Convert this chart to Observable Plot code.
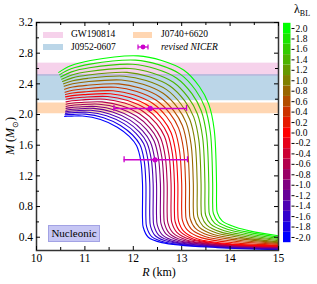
<!DOCTYPE html>
<html><head><meta charset="utf-8">
<script src="https://cdn.jsdelivr.net/npm/d3@7"></script>
<script src="https://cdn.jsdelivr.net/npm/@observablehq/plot@0.6"></script>
<style>
body{margin:0;background:#fff;}
#wrap{position:relative;width:317px;height:284px;font-family:"Liberation Serif",serif;color:#000;overflow:hidden;}
.ov{position:absolute;white-space:nowrap;line-height:1;}
</style></head><body>
<div id="wrap"></div>
<script>
// lambda_BL values of the 21 curves
const lambdas = [-2.0,-1.8,-1.6,-1.4,-1.2,-1.0,-0.8,-0.6,-0.4,-0.2,0.0,0.2,0.4,0.6,0.8,1.0,1.2,1.4,1.6,1.8,2.0];
// radius (km) along each curve
const curveR = [
 [10.58,10.636,10.728,10.95,11.322,11.669,11.917,12.066,12.153,12.19,12.19,12.205,12.31,12.59,13.736,15],
 [10.59,10.653,10.758,11.01,11.385,11.735,11.985,12.135,12.223,12.26,12.26,12.275,12.38,12.66,13.767,15],
 [10.60,10.67,10.786,11.065,11.448,11.805,12.06,12.213,12.302,12.34,12.34,12.355,12.46,12.74,13.803,15],
 [10.60,10.678,10.809,11.123,11.509,11.869,12.127,12.281,12.371,12.41,12.41,12.425,12.53,12.81,13.835,15],
 [10.61,10.696,10.838,11.18,11.57,11.934,12.194,12.35,12.441,12.48,12.48,12.495,12.60,12.88,13.866,15],
 [10.61,10.704,10.861,11.238,11.634,12.005,12.269,12.428,12.52,12.56,12.56,12.575,12.68,12.96,13.902,15],
 [10.61,10.713,10.884,11.295,11.696,12.069,12.336,12.497,12.59,12.63,12.63,12.645,12.75,13.03,13.934,15],
 [10.61,10.721,10.907,11.353,11.757,12.134,12.404,12.565,12.66,12.70,12.70,12.715,12.82,13.10,13.965,15],
 [10.61,10.73,10.93,11.41,11.821,12.205,12.479,12.643,12.739,12.78,12.78,12.795,12.90,13.18,14.001,15],
 [10.61,10.739,10.953,11.468,11.882,12.269,12.546,12.712,12.809,12.85,12.85,12.865,12.97,13.25,14.033,15],
 [10.60,10.739,10.97,11.525,11.944,12.334,12.613,12.781,12.878,12.92,12.92,12.935,13.04,13.32,14.064,15],
 [10.60,10.747,10.993,11.583,12.008,12.405,12.688,12.858,12.957,13.00,13.00,13.015,13.12,13.40,14.10,15],
 [10.59,10.748,11.01,11.64,12.072,12.475,12.763,12.936,13.037,13.08,13.08,13.095,13.20,13.48,14.136,15],
 [10.58,10.748,11.027,11.698,12.136,12.546,12.838,13.014,13.116,13.16,13.16,13.175,13.28,13.56,14.172,15],
 [10.57,10.748,11.044,11.755,12.201,12.616,12.913,13.092,13.195,13.24,13.24,13.255,13.36,13.64,14.208,15],
 [10.56,10.748,11.061,11.813,12.265,12.687,12.988,13.169,13.275,13.32,13.32,13.335,13.44,13.72,14.244,15],
 [10.54,10.74,11.072,11.87,12.329,12.757,13.063,13.247,13.354,13.40,13.40,13.415,13.52,13.80,14.28,15],
 [10.52,10.731,11.083,11.928,12.393,12.828,13.138,13.325,13.433,13.48,13.48,13.495,13.60,13.88,14.316,15],
 [10.50,10.723,11.094,11.985,12.458,12.899,13.214,13.403,13.513,13.56,13.56,13.575,13.68,13.96,14.352,15],
 [10.48,10.714,11.105,12.043,12.522,12.969,13.289,13.48,13.592,13.64,13.64,13.655,13.76,14.04,14.388,15],
 [10.46,10.706,11.116,12.10,12.586,13.04,13.364,13.558,13.671,13.72,13.72,13.735,13.84,14.12,14.424,15]
];
// mass (Msun) along each curve
const curveM = [
 [1.975,1.977,1.979,1.98,1.935,1.835,1.715,1.595,1.40,1.1,0.65,0.53,0.40,0.33,0.265,0.24],
 [1.995,1.999,2.002,2.005,1.959,1.858,1.733,1.608,1.406,1.1,0.658,0.538,0.408,0.335,0.27,0.245],
 [2.015,2.021,2.026,2.03,1.984,1.881,1.752,1.621,1.412,1.1,0.666,0.546,0.416,0.34,0.274,0.25],
 [2.035,2.043,2.049,2.055,2.008,1.904,1.77,1.633,1.418,1.1,0.674,0.554,0.424,0.345,0.279,0.255],
 [2.055,2.065,2.073,2.08,2.032,1.927,1.788,1.646,1.424,1.1,0.682,0.562,0.432,0.35,0.283,0.26],
 [2.08,2.09,2.098,2.105,2.056,1.95,1.806,1.659,1.43,1.1,0.69,0.57,0.44,0.355,0.288,0.265],
 [2.105,2.117,2.127,2.135,2.086,1.978,1.83,1.677,1.441,1.1,0.698,0.578,0.448,0.36,0.292,0.27],
 [2.135,2.147,2.157,2.165,2.115,2.006,1.853,1.694,1.452,1.1,0.706,0.586,0.456,0.365,0.297,0.275],
 [2.165,2.179,2.19,2.20,2.149,2.039,1.881,1.717,1.468,1.1,0.714,0.594,0.464,0.37,0.301,0.28],
 [2.20,2.214,2.225,2.235,2.183,2.072,1.909,1.74,1.484,1.1,0.722,0.602,0.472,0.375,0.306,0.285],
 [2.23,2.246,2.259,2.27,2.218,2.105,1.938,1.763,1.50,1.1,0.73,0.61,0.48,0.38,0.31,0.29],
 [2.26,2.28,2.296,2.31,2.257,2.143,1.971,1.79,1.521,1.1,0.741,0.621,0.493,0.395,0.327,0.30],
 [2.29,2.316,2.337,2.355,2.301,2.186,2.009,1.823,1.547,1.1,0.752,0.632,0.506,0.41,0.344,0.31],
 [2.33,2.358,2.38,2.40,2.345,2.229,2.047,1.856,1.573,1.1,0.763,0.643,0.519,0.425,0.361,0.32],
 [2.37,2.402,2.428,2.45,2.395,2.277,2.091,1.894,1.604,1.1,0.774,0.654,0.532,0.44,0.378,0.33],
 [2.40,2.44,2.472,2.50,2.444,2.325,2.134,1.931,1.635,1.1,0.785,0.665,0.545,0.455,0.395,0.34],
 [2.43,2.478,2.516,2.55,2.493,2.373,2.177,1.969,1.666,1.1,0.796,0.676,0.558,0.47,0.412,0.355],
 [2.46,2.516,2.561,2.60,2.542,2.421,2.22,2.007,1.697,1.1,0.807,0.687,0.571,0.485,0.429,0.37],
 [2.49,2.556,2.609,2.655,2.597,2.474,2.269,2.05,1.733,1.1,0.818,0.698,0.584,0.50,0.446,0.385],
 [2.52,2.596,2.657,2.71,2.651,2.527,2.317,2.092,1.769,1.1,0.829,0.709,0.597,0.515,0.463,0.40],
 [2.55,2.636,2.705,2.765,2.705,2.58,2.365,2.135,1.805,1.1,0.84,0.72,0.61,0.53,0.48,0.42]
];
// observational mass bands
const bandNames = ["GW190814", "J0952-0607", "J0740+6620"];
const bandLo = [2.50, 2.18, 2.01];
const bandHi = [2.67, 2.52, 2.15];
const bandColors = ["#e377c2", "#1f77b4", "#ff7f0e"];
const bandOpacity = [0.33, 0.30, 0.32];
// revised NICER points
const nicerR = [12.35, 12.45];
const nicerM = [2.08, 1.41];
const nicerLo = [11.60, 11.81];
const nicerHi = [13.10, 13.12];
// ticks
const xMajor = [10, 11, 12, 13, 14, 15];
const xMinor = [10.5, 11.5, 12.5, 13.5, 14.5];
const yMajor = [0.4, 0.8, 1.2, 1.6, 2.0, 2.4, 2.8, 3.2];
const yMinor = [0.6, 1.0, 1.4, 1.8, 2.2, 2.6, 3.0];

const table = [];
lambdas.forEach((lam, i) => curveR[i].forEach((r, k) => table.push({lambda: lam, R: r, M: curveM[i][k]})));
const nicer = nicerR.map((r, i) => ({R: r, M: nicerM[i], lo: nicerLo[i], hi: nicerHi[i]}));
const caps = nicer.flatMap(d => [{x: d.lo, M: d.M}, {x: d.hi, M: d.M}]);

const colorScale = {type: "linear", domain: [-2, 0, 2], range: ["#0000ff", "#ff0000", "#00ff00"], interpolate: "rgb"};
const W = 317, H = 284, mL = 36, mR = 39, mT = 22, mB = 34;
const iw = W - mL - mR, ih = H - mT - mB;
const magenta = "#cc00cc";
const frameCol = "#333";

const main = Plot.plot({
  width: W, height: H, marginLeft: mL, marginRight: mR, marginTop: mT, marginBottom: mB,
  x: {domain: [10, 15]},
  y: {domain: [0.227, 3.2]},
  color: colorScale,
  style: {fontFamily: "Liberation Serif", fontSize: "11.5px", background: "transparent", color: "#000"},
  marks: [
    ...bandNames.map((n, i) => Plot.rect([i], {y1: () => bandLo[i], y2: () => bandHi[i], fill: bandColors[i], fillOpacity: bandOpacity[i]})),
    Plot.line(table, {x: "R", y: "M", z: "lambda", stroke: "lambda", strokeWidth: 1.1, curve: "catmull-rom"}),
    Plot.ruleY(nicer, {y: "M", x1: "lo", x2: "hi", stroke: magenta, strokeWidth: 1.5}),
    Plot.ruleX(caps, {x: "x", y1: "M", y2: "M", insetTop: -3, insetBottom: -3, stroke: magenta, strokeWidth: 1.3}),
    Plot.dot(nicer, {x: "R", y: "M", r: 2.6, fill: magenta}),
    Plot.frame({stroke: frameCol, strokeWidth: 1.5}),
    Plot.tickX(xMajor, {x: d => d, insetTop: ih - 4, stroke: "#000"}),
    Plot.tickX(xMajor, {x: d => d, insetBottom: ih - 4, stroke: "#000"}),
    Plot.tickX(xMinor, {x: d => d, insetTop: ih - 3, stroke: "#000"}),
    Plot.tickX(xMinor, {x: d => d, insetBottom: ih - 3, stroke: "#000"}),
    Plot.tickY(yMajor, {y: d => d, insetRight: iw - 4, stroke: "#000"}),
    Plot.tickY(yMajor, {y: d => d, insetLeft: iw - 4, stroke: "#000"}),
    Plot.tickY(yMinor, {y: d => d, insetRight: iw - 3, stroke: "#000"}),
    Plot.tickY(yMinor, {y: d => d, insetLeft: iw - 3, stroke: "#000"}),
    Plot.axisX(xMajor, {tickSize: 0, tickPadding: 3, label: null, tickFormat: d => String(d)}),
    Plot.axisY(yMajor, {tickSize: 0, tickPadding: 3.5, label: null, tickFormat: d => d.toFixed(1)})
  ]
});
main.style.position = "absolute"; main.style.left = "0px"; main.style.top = "0px";

const cbar = Plot.plot({
  width: 36, height: H, marginLeft: 2, marginRight: 26.5, marginTop: 22.8, marginBottom: 41.8,
  y: {domain: [-2.1, 2.1]},
  color: colorScale,
  style: {fontFamily: "Liberation Serif", fontSize: "9.5px", background: "transparent", color: "#000"},
  marks: [
    Plot.rect(lambdas, {y1: d => d - 0.1, y2: d => d + 0.1, fill: d => d}),
    Plot.axisY(lambdas, {anchor: "right", tickSize: 3, tickPadding: 1.5, label: null, tickFormat: d => d.toFixed(1)})
  ]
});
cbar.style.position = "absolute"; cbar.style.left = "281px"; cbar.style.top = "0px";

const wrap = document.getElementById("wrap");
wrap.appendChild(main);
wrap.appendChild(cbar);

function ov(html, css) {
  const d = document.createElement("div");
  d.className = "ov";
  d.innerHTML = html;
  Object.assign(d.style, css);
  wrap.appendChild(d);
  return d;
}
// axis labels
ov('<i>R</i> (km)', {left: "159px", top: "266px", fontSize: "12px", transform: "translateX(-50%)"});
ov('<i>M</i> (<i>M</i><sub style="font-size:8px">⊙</sub>)', {left: "12px", top: "136px", fontSize: "12px", transform: "translate(-50%,-50%) rotate(-90deg)"});
ov('λ<sub style="font-size:8px">BL</sub>', {left: "294px", top: "3px", fontSize: "12px"});
// legend
const sw = (l, t, w, h, c, o) => ov('', {left: l + "px", top: t + "px", width: w + "px", height: h + "px", background: c, opacity: o});
sw(43, 31.5, 20, 6, bandColors[0], bandOpacity[0]);
sw(43, 43.5, 20, 6.5, bandColors[1], bandOpacity[1]);
sw(133, 31.5, 19, 6, bandColors[2], bandOpacity[2]);
ov(bandNames[0], {left: "71px", top: "29.5px", fontSize: "9.5px"});
ov(bandNames[1], {left: "71px", top: "43px", fontSize: "9.5px"});
ov(bandNames[2], {left: "161px", top: "29.5px", fontSize: "9.5px"});
ov('<i>revised NICER</i>', {left: "161px", top: "43px", fontSize: "9.5px"});
ov('<svg width="12" height="8" style="display:block"><line x1="1" x2="11" y1="4" y2="4" stroke="' + magenta + '" stroke-width="1.3"/><line x1="1" x2="1" y1="1.5" y2="6.5" stroke="' + magenta + '" stroke-width="1.2"/><line x1="11" x2="11" y1="1.5" y2="6.5" stroke="' + magenta + '" stroke-width="1.2"/><circle cx="6" cy="4" r="2.4" fill="' + magenta + '"/></svg>', {left: "137px", top: "43px"});
// Nucleonic box
ov('Nucleonic', {left: "48px", top: "225px", width: "50px", height: "15px", lineHeight: "15px", textAlign: "center", background: "#c6c6f4", border: "1px solid #a2a2e4", fontSize: "11px"});
</script>
</body></html>
